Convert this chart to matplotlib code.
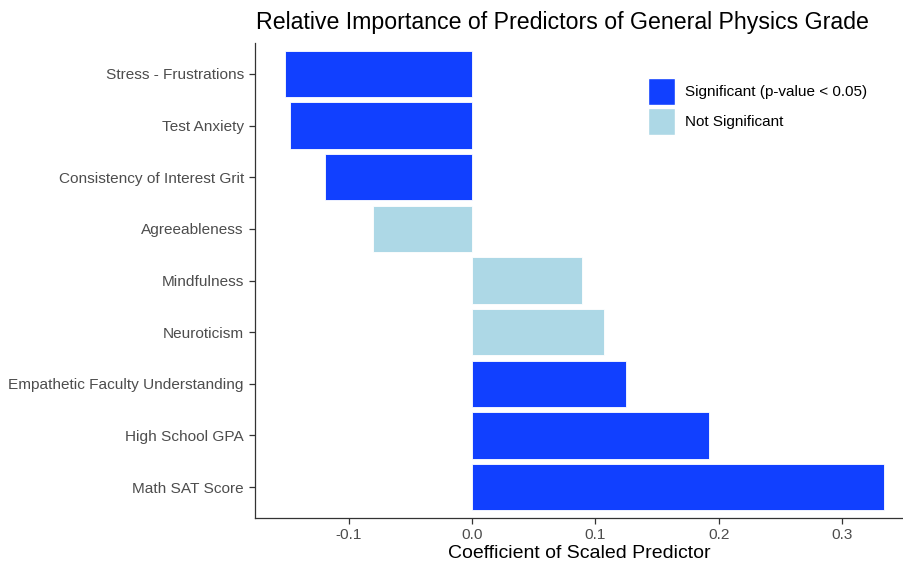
import matplotlib
matplotlib.use("Agg")
import matplotlib.pyplot as plt
from matplotlib.patches import Patch

plt.rcParams['font.family'] = ['Liberation Sans', 'DejaVu Sans']

predictors = ["Stress - Frustrations", "Test Anxiety", "Consistency of Interest Grit",
              "Agreeableness", "Mindfulness", "Neuroticism",
              "Empathetic Faculty Understanding", "High School GPA", "Math SAT Score"]
coefficients = [-0.152, -0.148, -0.119, -0.080, 0.089, 0.107, 0.125, 0.192, 0.334]
significant = [True, True, True, False, False, False, True, True, True]

sig_color = "#1140FF"
nonsig_color = "#ADD8E6"

fig = plt.figure(figsize=(9.04, 5.65), dpi=100)
ax = fig.add_axes([255/904, 47/565, (904-255)/904, (518-43)/565])

n = len(predictors)
ypos = list(range(n, 0, -1))
colors = [sig_color if s else nonsig_color for s in significant]
ax.barh(ypos, coefficients, height=0.9, color=colors, edgecolor="white", linewidth=0.6)

ax.set_yticks(ypos)
ax.set_yticklabels(predictors)
ax.set_ylim(0.4, n + 0.6)
ax.set_xlim(-0.176, 0.3504)
ax.set_xticks([-0.1, 0.0, 0.1, 0.2, 0.3])
ax.set_xticklabels(["-0.1", "0.0", "0.1", "0.2", "0.3"])

for s in ["top", "right"]:
    ax.spines[s].set_visible(False)
for s in ["left", "bottom"]:
    ax.spines[s].set_color("#333333")
    ax.spines[s].set_linewidth(0.9)
ax.tick_params(axis="both", colors="#333333", labelcolor="#4D4D4D", labelsize=11.1,
               length=4, width=0.9)
ax.tick_params(axis="y", pad=4)

ax.set_xlabel("Coefficient of Scaled Predictor", fontsize=14, color="black", labelpad=1.5)
fig.text(562/904, 1 - 22/565, "Relative Importance of Predictors of General Physics Grade",
         ha="center", va="center", fontsize=16.7, color="black")

handles = [Patch(facecolor=sig_color, edgecolor="white", label="Significant (p-value < 0.05)"),
           Patch(facecolor=nonsig_color, edgecolor="white", label="Not Significant")]
leg = ax.legend(handles=handles, loc="upper left", bbox_to_anchor=(648/904, 1 - 78/565),
                bbox_transform=fig.transFigure, frameon=False, fontsize=11,
                handlelength=1.77, handleheight=2.34, handletextpad=0.65, labelspacing=0.2,
                borderaxespad=0, borderpad=0)

fig.savefig("out.png", dpi=100)
